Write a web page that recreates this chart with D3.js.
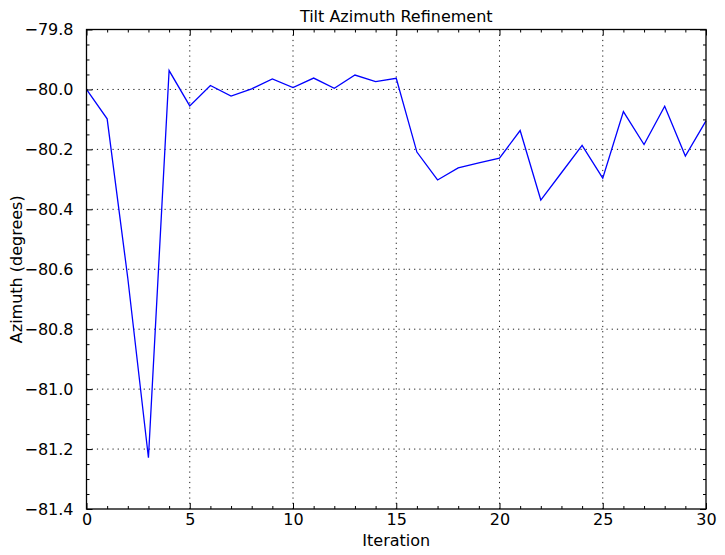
<!DOCTYPE html>
<html>
<head>
<meta charset="utf-8">
<script src="https://cdn.jsdelivr.net/npm/d3@7"></script>
<style>
  body { margin: 0; background: #fff; }
  svg text { font-family: "DejaVu Sans", sans-serif; fill: #000; }
</style>
</head>
<body>
<script>
// Tilt azimuth refinement line chart

const iterations = d3.range(0, 31);
const azimuth = [
    -80.000, -80.098, -80.630, -81.229, -79.937, -80.055, -79.987, -80.022,
    -79.998, -79.965, -79.994, -79.962, -79.996, -79.952, -79.974, -79.963,
    -80.209, -80.302, -80.262, -80.245, -80.229, -80.137, -80.369, -80.278,
    -80.187, -80.296, -80.074, -80.184, -80.056, -80.222, -80.105
];
const xTicks = [0, 5, 10, 15, 20, 25, 30];
const yTicks = [-79.8, -80.0, -80.2, -80.4, -80.6, -80.8, -81.0, -81.2, -81.4];

const svgWidth = 725;
const svgHeight = 555;

const margin = {
    top: 29.5,
    right: 19,
    bottom: 46,
    left: 86.5
};

const width = svgWidth - margin.left - margin.right;
const height = svgHeight - margin.top - margin.bottom;

let svg = d3.select("body")
    .append("svg")
    .attr("width", svgWidth)
    .attr("height", svgHeight);

let chartGroup = svg.append("g")
    .attr("transform", `translate(${margin.left}, ${margin.top})`);

let xScale = d3.scaleLinear()
    .domain([0, 30])
    .range([0, width]);

let yScale = d3.scaleLinear()
    .domain([-81.4, -79.8])
    .range([height, 0]);

// grid lines (dotted)
let grid = chartGroup.append("g");
grid.selectAll(".gx")
    .data(xTicks.slice(1, -1))
    .enter()
    .append("line")
    .attr("x1", d => xScale(d))
    .attr("x2", d => xScale(d))
    .attr("y1", 0)
    .attr("y2", height)
    .attr("stroke", "#000")
    .attr("stroke-width", 0.9)
    .attr("stroke-dasharray", "1.2,4");
grid.selectAll(".gy")
    .data(yTicks.slice(1, -1))
    .enter()
    .append("line")
    .attr("x1", 0)
    .attr("x2", width)
    .attr("y1", d => yScale(d))
    .attr("y2", d => yScale(d))
    .attr("stroke", "#000")
    .attr("stroke-width", 0.9)
    .attr("stroke-dasharray", "1.2,4");

// data line
let line = d3.line()
    .x((d, i) => xScale(iterations[i]))
    .y(d => yScale(d));

chartGroup.append("path")
    .datum(azimuth)
    .attr("d", line)
    .attr("fill", "none")
    .attr("stroke", "#0000ff")
    .attr("stroke-width", 1.3);

// axes: ticks pointing inward on all four sides
const fmtY = d => d3.format(".1f")(d).replace("-", "\u2212");
const xMinor = d3.range(0, 31).filter(d => d % 5 !== 0);
const yMinor = d3.range(0, 33).map(i => -79.8 - i * 0.05).filter((d, i) => i % 4 !== 0);

function styleAxis(g) {
    g.select(".domain").remove();
    g.selectAll("line").attr("stroke", "#000").attr("stroke-width", 1);
    g.selectAll("text").attr("font-size", "16px");
}

chartGroup.append("g")
    .attr("transform", `translate(0, ${height})`)
    .call(d3.axisBottom(xScale).tickValues(xTicks).tickSizeInner(-6).tickPadding(5))
    .call(styleAxis);
chartGroup.append("g")
    .attr("transform", `translate(0, ${height})`)
    .call(d3.axisBottom(xScale).tickValues(xMinor).tickSizeInner(-3).tickFormat(""))
    .call(styleAxis);
chartGroup.append("g")
    .call(d3.axisTop(xScale).tickValues(xTicks).tickSizeInner(-6).tickFormat(""))
    .call(styleAxis);
chartGroup.append("g")
    .call(d3.axisTop(xScale).tickValues(xMinor).tickSizeInner(-3).tickFormat(""))
    .call(styleAxis);

chartGroup.append("g")
    .call(d3.axisLeft(yScale).tickValues(yTicks).tickSizeInner(-6).tickPadding(13).tickFormat(fmtY))
    .call(styleAxis);
chartGroup.append("g")
    .call(d3.axisLeft(yScale).tickValues(yMinor).tickSizeInner(-3).tickFormat(""))
    .call(styleAxis);
chartGroup.append("g")
    .attr("transform", `translate(${width}, 0)`)
    .call(d3.axisRight(yScale).tickValues(yTicks).tickSizeInner(-6).tickFormat(""))
    .call(styleAxis);
chartGroup.append("g")
    .attr("transform", `translate(${width}, 0)`)
    .call(d3.axisRight(yScale).tickValues(yMinor).tickSizeInner(-3).tickFormat(""))
    .call(styleAxis);

// frame
chartGroup.append("rect")
    .attr("width", width)
    .attr("height", height)
    .attr("fill", "none")
    .attr("stroke", "#000")
    .attr("stroke-width", 1.3);

// labels
svg.append("text")
    .attr("x", margin.left + width / 2)
    .attr("y", 22)
    .attr("text-anchor", "middle")
    .attr("font-size", "16px")
    .text("Tilt Azimuth Refinement");

svg.append("text")
    .attr("x", margin.left + width / 2)
    .attr("y", 546)
    .attr("text-anchor", "middle")
    .attr("font-size", "16px")
    .text("Iteration");

svg.append("text")
    .attr("transform", `translate(22, ${margin.top + height / 2}) rotate(-90)`)
    .attr("text-anchor", "middle")
    .attr("font-size", "16px")
    .text("Azimuth (degrees)");
</script>
</body>
</html>
